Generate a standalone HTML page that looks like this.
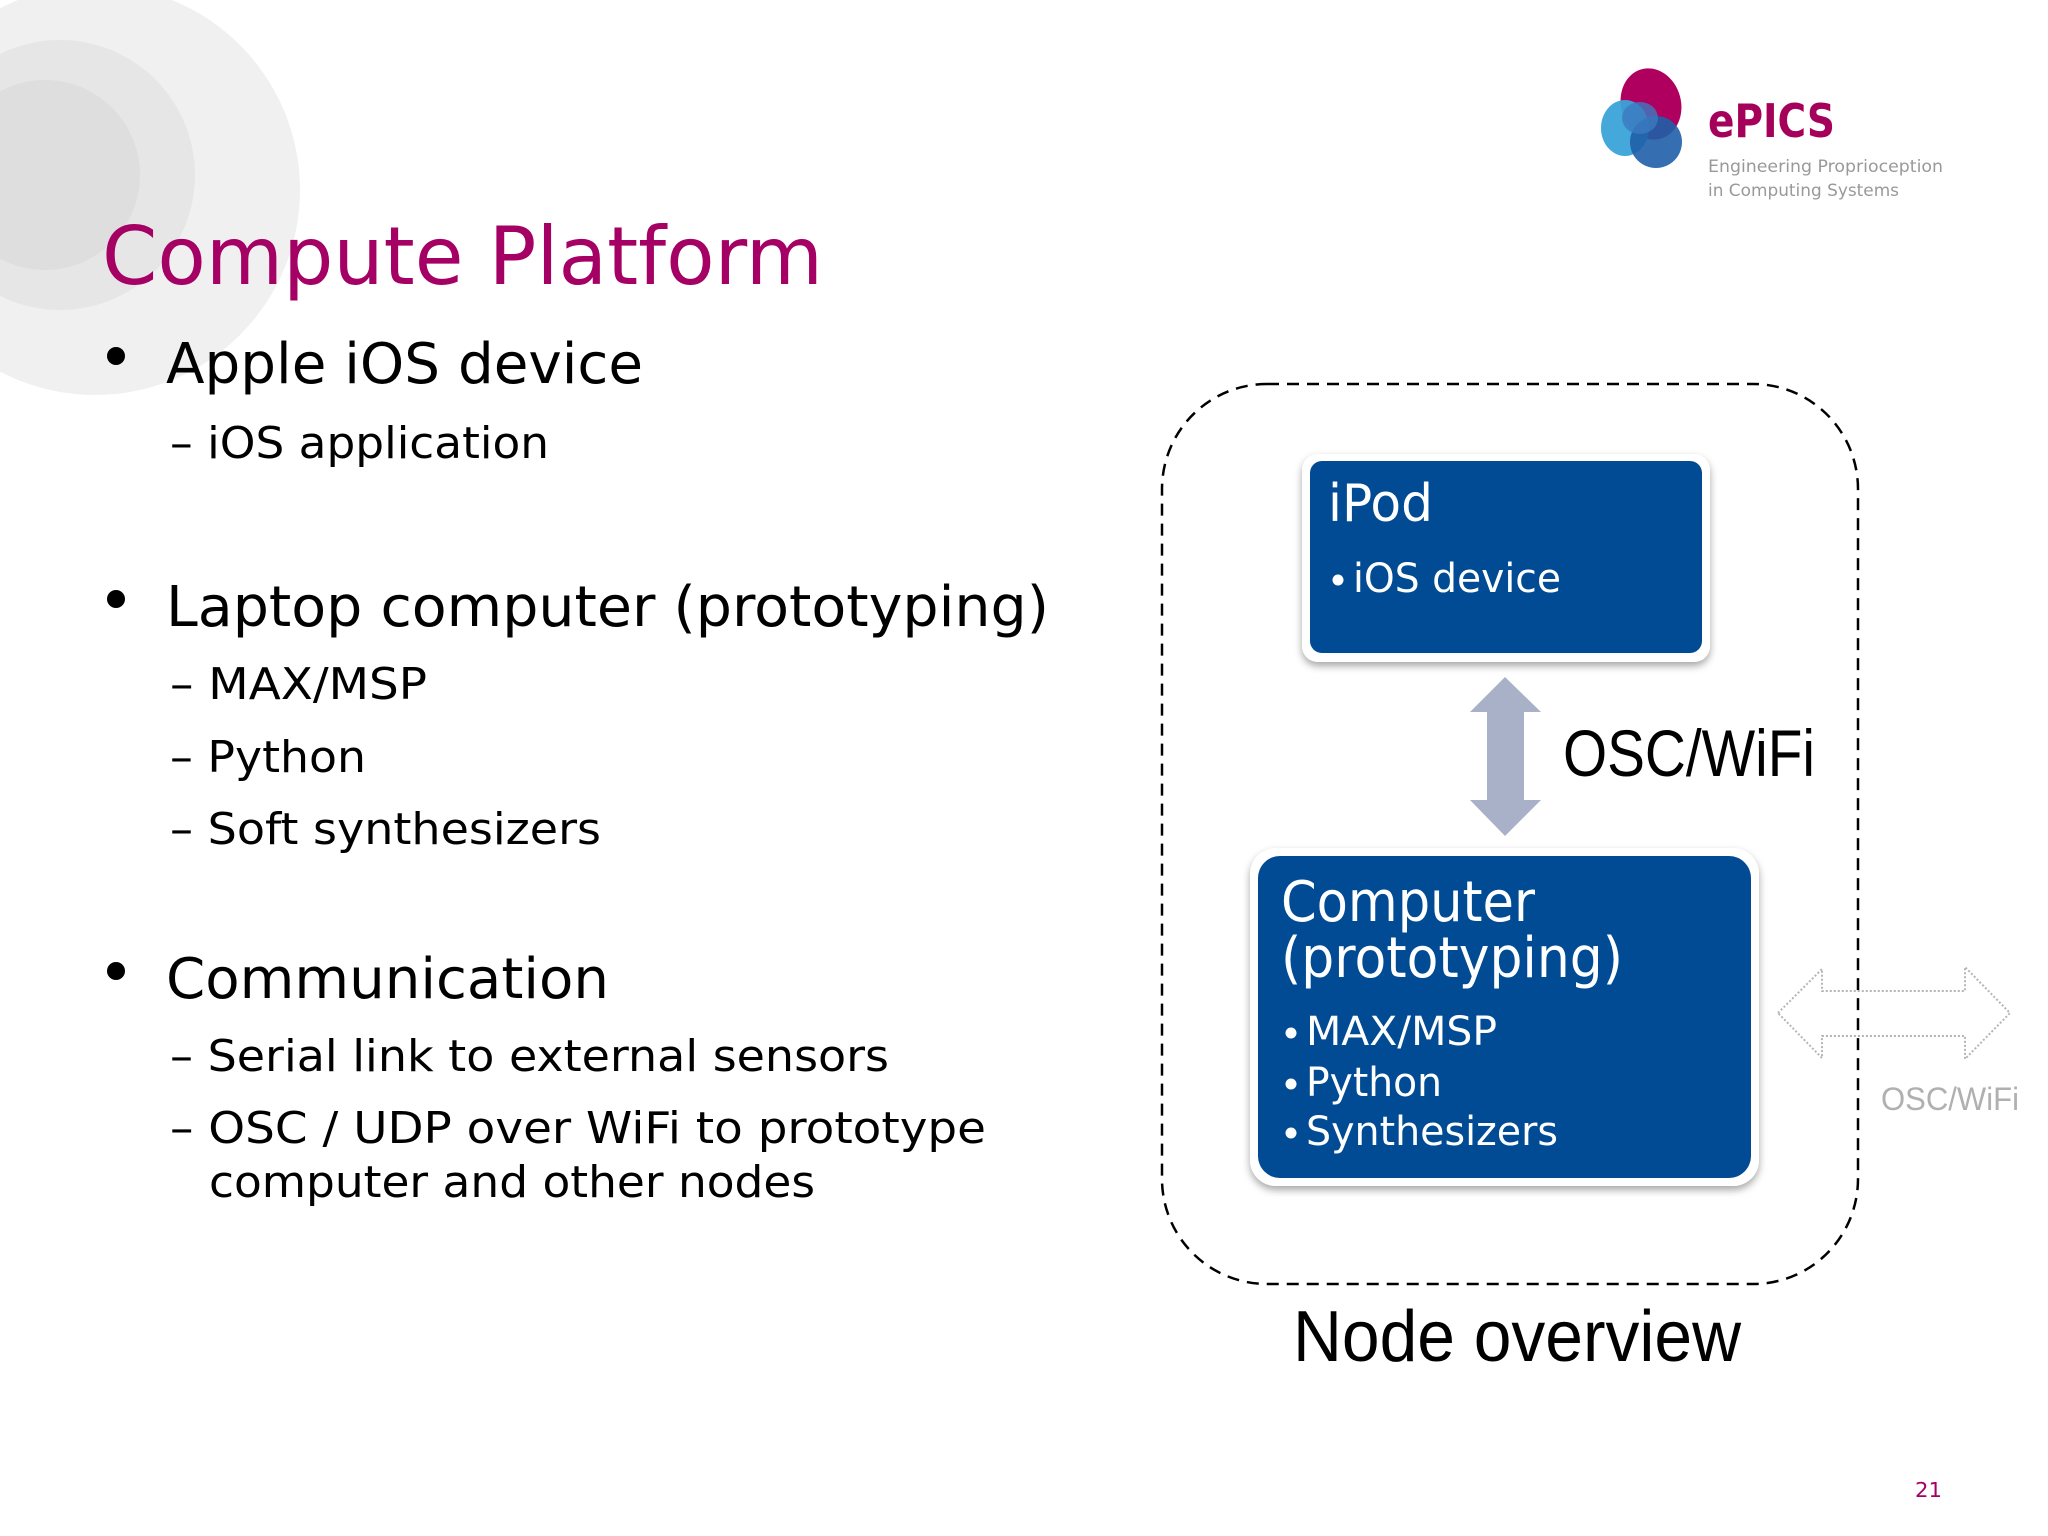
<!DOCTYPE html>
<html><head><meta charset="utf-8"><style>
html,body{margin:0;padding:0;background:#fff;}
svg{display:block;}
text{font-family:"DejaVu Sans","Liberation Sans",sans-serif;}
.a{font-family:"Liberation Sans",Arial,sans-serif;}
</style></head><body>
<svg width="2048" height="1536" viewBox="0 0 2048 1536" xmlns="http://www.w3.org/2000/svg">
<defs>
<filter id="sh" x="-10%" y="-10%" width="120%" height="130%">
<feDropShadow dx="0" dy="4" stdDeviation="4" flood-color="#000" flood-opacity="0.35"/>
</filter>
</defs>
<!-- background circles -->
<circle cx="95" cy="190" r="205" fill="#f0f0f0"/>
<circle cx="60" cy="175" r="135" fill="#e6e6e7"/>
<circle cx="45" cy="175" r="95" fill="#dededf"/>

<!-- logo -->
<ellipse cx="1651" cy="104" rx="30" ry="36" fill="#b0005f" transform="rotate(-15 1651 104)"/>
<ellipse cx="1625" cy="128" rx="24" ry="28" fill="#3aa3d8" opacity="0.95"/>
<ellipse cx="1656" cy="142" rx="26" ry="26" fill="#1f5fa8" opacity="0.9"/>
<ellipse cx="1640" cy="118" rx="18" ry="16" fill="#3b7bc0" opacity="0.8"/>
<text x="1708" y="137" font-size="46" font-weight="bold" fill="#a5005a" textLength="127" lengthAdjust="spacingAndGlyphs">ePICS</text>
<text x="1708" y="172" font-size="17" fill="#999" textLength="235" lengthAdjust="spacingAndGlyphs">Engineering Proprioception</text>
<text x="1708" y="196" font-size="17" fill="#999" textLength="191" lengthAdjust="spacingAndGlyphs">in Computing Systems</text>

<!-- title -->
<text x="102" y="284" font-size="80" fill="#a50064" textLength="721" lengthAdjust="spacingAndGlyphs">Compute Platform</text>

<!-- bullets -->
<g fill="#000">
<circle cx="116" cy="356" r="9"/>
<circle cx="116" cy="599" r="9"/>
<circle cx="116" cy="971" r="9"/>
</g>
<text x="166" y="383" font-size="56" textLength="477" lengthAdjust="spacingAndGlyphs">Apple iOS device</text>
<text x="170" y="458" font-size="44" textLength="379" lengthAdjust="spacingAndGlyphs">– iOS application</text>
<text x="166" y="626" font-size="56" textLength="883" lengthAdjust="spacingAndGlyphs">Laptop computer (prototyping)</text>
<text x="170" y="699" font-size="44" textLength="257" lengthAdjust="spacingAndGlyphs">– MAX/MSP</text>
<text x="170" y="772" font-size="44" textLength="196" lengthAdjust="spacingAndGlyphs">– Python</text>
<text x="170" y="844" font-size="44" textLength="431" lengthAdjust="spacingAndGlyphs">– Soft synthesizers</text>
<text x="166" y="998" font-size="56" textLength="443" lengthAdjust="spacingAndGlyphs">Communication</text>
<text x="170" y="1071" font-size="44" textLength="719" lengthAdjust="spacingAndGlyphs">– Serial link to external sensors</text>
<text x="170" y="1143" font-size="44" textLength="816" lengthAdjust="spacingAndGlyphs">– OSC / UDP over WiFi to prototype</text>
<text x="209" y="1197" font-size="44" textLength="606" lengthAdjust="spacingAndGlyphs">computer and other nodes</text>

<!-- dashed container -->
<rect x="1162" y="384" width="696" height="900" rx="105" ry="105" fill="none" stroke="#000" stroke-width="2.5" stroke-dasharray="12 8"/>

<!-- iPod box -->
<rect x="1302" y="454" width="408" height="208" rx="16" fill="#fff" filter="url(#sh)"/>
<rect x="1310" y="461" width="392" height="192" rx="12" fill="#004b93"/>
<text x="1328" y="521" font-size="52" fill="#fff" textLength="105" lengthAdjust="spacingAndGlyphs">iPod</text>
<circle cx="1338" cy="580" r="5.5" fill="#fff"/>
<text x="1353" y="592" font-size="40" fill="#fff" textLength="208" lengthAdjust="spacingAndGlyphs">iOS device</text>

<!-- vertical double arrow -->
<polygon points="1505,677 1541,712 1524,712 1524,800 1541,800 1505,836 1470,800 1487,800 1487,712 1470,712" fill="#a9b1c8"/>
<text class="a" x="1563" y="776" font-size="66" fill="#000" textLength="252" lengthAdjust="spacingAndGlyphs">OSC/WiFi</text>

<!-- computer box -->
<rect x="1250" y="848" width="509" height="338" rx="26" fill="#fff" filter="url(#sh)"/>
<rect x="1258" y="856" width="493" height="322" rx="22" fill="#004b93"/>
<text x="1281" y="921" font-size="56" fill="#fff" textLength="254" lengthAdjust="spacingAndGlyphs">Computer</text>
<text x="1281" y="977" font-size="56" fill="#fff" textLength="342" lengthAdjust="spacingAndGlyphs">(prototyping)</text>
<circle cx="1291" cy="1033" r="5.5" fill="#fff"/>
<text x="1306" y="1045" font-size="40" fill="#fff" textLength="191" lengthAdjust="spacingAndGlyphs">MAX/MSP</text>
<circle cx="1291" cy="1084" r="5.5" fill="#fff"/>
<text x="1306" y="1096" font-size="40" fill="#fff" textLength="136" lengthAdjust="spacingAndGlyphs">Python</text>
<circle cx="1291" cy="1133" r="5.5" fill="#fff"/>
<text x="1306" y="1145" font-size="40" fill="#fff" textLength="252" lengthAdjust="spacingAndGlyphs">Synthesizers</text>

<!-- gray dotted horizontal arrow -->
<polygon points="1778,1013 1822,969 1822,991 1965,991 1965,967 2010,1013 1965,1059 1965,1036 1822,1036 1822,1058" fill="none" stroke="#b5b5b5" stroke-width="2" stroke-dasharray="2 2"/>
<text class="a" x="1881" y="1110" font-size="32" fill="#b0b0b0" textLength="138" lengthAdjust="spacingAndGlyphs">OSC/WiFi</text>

<text class="a" x="1293" y="1361" font-size="72" fill="#000" textLength="448" lengthAdjust="spacingAndGlyphs">Node overview</text>

<text x="1915" y="1497" font-size="20" fill="#a50064" textLength="27" lengthAdjust="spacingAndGlyphs">21</text>
</svg>
</body></html>
